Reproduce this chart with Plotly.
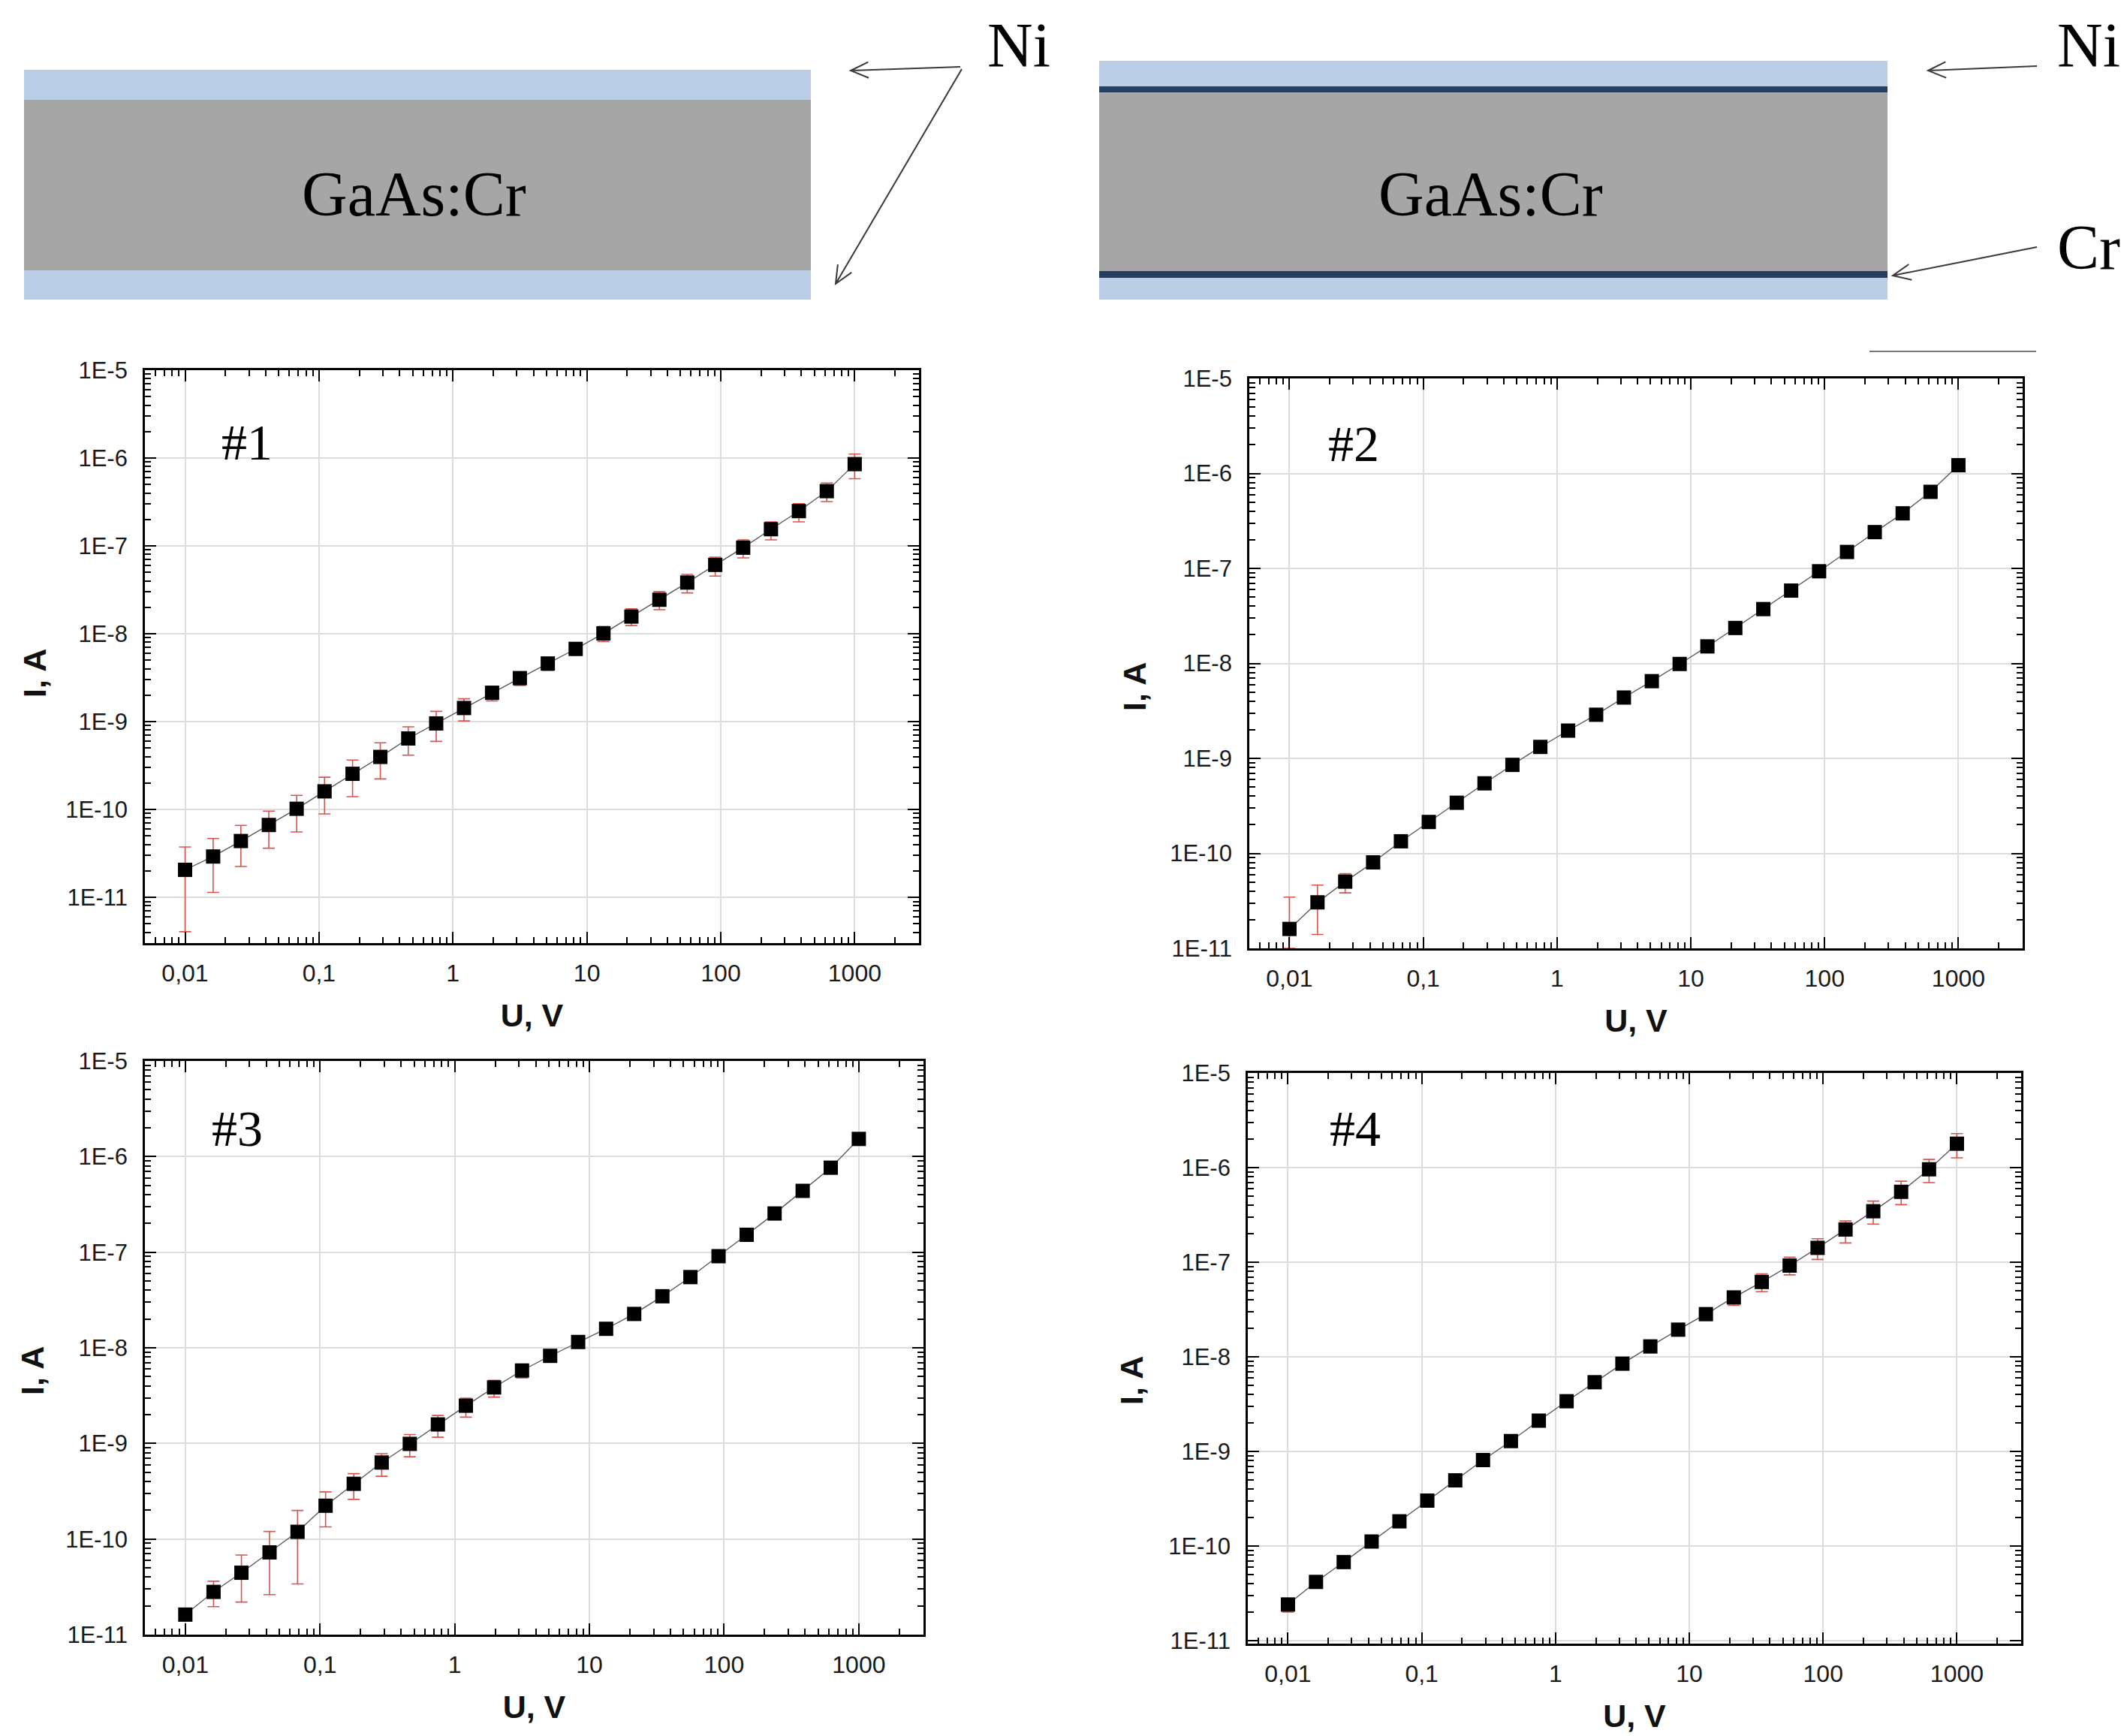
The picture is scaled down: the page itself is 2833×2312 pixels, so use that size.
import math
import plotly.graph_objects as go

W, H = 2833, 2312

# ---------------- data ----------------
U = [0.01, 0.0162, 0.0261, 0.0422, 0.0681, 0.110, 0.178, 0.287, 0.464, 0.750,
     1.21, 1.96, 3.16, 5.11, 8.25, 13.3, 21.5, 34.8, 56.2, 90.9,
     147, 237, 383, 619, 1000]

I1 = [2.06e-11, 2.92e-11, 4.38e-11, 6.67e-11, 1.02e-10, 1.61e-10, 2.55e-10, 3.97e-10, 6.44e-10, 9.55e-10,
      1.43e-9, 2.13e-9, 3.13e-9, 4.59e-9, 6.73e-9, 1.01e-8, 1.57e-8, 2.44e-8, 3.83e-8, 6.08e-8,
      9.55e-8, 1.55e-7, 2.49e-7, 4.2e-7, 8.53e-7]
I1_hi = [3.75e-11, 4.68e-11, 6.6e-11, 9.6e-11, 1.45e-10, 2.33e-10, 3.66e-10, 5.75e-10, 8.73e-10, 1.31e-9,
         1.82e-9, 2.52e-9, 3.62e-9, 5.25e-9, 7.9e-9, 1.21e-8, 1.92e-8, 3.02e-8, 4.74e-8, 7.46e-8,
         1.17e-7, 1.88e-7, 3.02e-7, 5.2e-7, 1.11e-6]
I1_lo = [4.07e-12, 1.14e-11, 2.25e-11, 3.63e-11, 5.56e-11, 8.9e-11, 1.40e-10, 2.23e-10, 4.15e-10, 5.96e-10,
         1.02e-9, 1.72e-9, 2.58e-9, 3.83e-9, 5.69e-9, 8.16e-9, 1.24e-8, 1.88e-8, 2.92e-8, 4.54e-8,
         7.3e-8, 1.17e-7, 1.88e-7, 3.2e-7, 5.82e-7]

I2 = [1.6e-11, 3.05e-11, 5.04e-11, 8.04e-11, 1.34e-10, 2.14e-10, 3.41e-10, 5.46e-10, 8.54e-10, 1.32e-9,
      1.96e-9, 2.88e-9, 4.37e-9, 6.5e-9, 9.86e-9, 1.51e-8, 2.36e-8, 3.73e-8, 5.84e-8, 9.33e-8,
      1.49e-7, 2.41e-7, 3.8e-7, 6.4e-7, 1.22e-6]
I2_hi = [3.46e-11, 4.63e-11, 6.1e-11, 8.6e-11, 1.43e-10, 2.29e-10, 3.65e-10, 5.84e-10, 9.1e-10, 1.41e-9,
         2.1e-9, 3.08e-9, 4.68e-9, 6.96e-9, 1.05e-8, 1.62e-8, 2.52e-8, 3.99e-8, 6.25e-8, 9.98e-8,
         1.59e-7, 2.58e-7, 4.07e-7, 6.85e-7, 1.3e-6]
I2_lo = [1.0e-11, 1.40e-11, 3.84e-11, 7.5e-11, 1.25e-10, 1.99e-10, 3.17e-10, 5.08e-10, 7.94e-10, 1.23e-9,
         1.82e-9, 2.68e-9, 4.06e-9, 6.05e-9, 9.17e-9, 1.4e-8, 2.19e-8, 3.47e-8, 5.43e-8, 8.68e-8,
         1.39e-7, 2.24e-7, 3.53e-7, 5.95e-7, 1.13e-6]

I3 = [1.62e-11, 2.8e-11, 4.44e-11, 7.25e-11, 1.19e-10, 2.23e-10, 3.78e-10, 6.31e-10, 9.89e-10, 1.58e-9,
      2.48e-9, 3.85e-9, 5.79e-9, 8.24e-9, 1.15e-8, 1.58e-8, 2.26e-8, 3.46e-8, 5.49e-8, 9.08e-8,
      1.52e-7, 2.54e-7, 4.38e-7, 7.65e-7, 1.53e-6]
I3_hi = [1.85e-11, 3.62e-11, 6.8e-11, 1.2e-10, 1.99e-10, 3.11e-10, 4.83e-10, 7.82e-10, 1.24e-9, 1.96e-9,
         2.98e-9, 4.57e-9, 6.38e-9, 8.8e-9, 1.23e-8, 1.69e-8, 2.42e-8, 3.7e-8, 5.87e-8, 9.7e-8,
         1.62e-7, 2.71e-7, 4.68e-7, 8.2e-7, 1.63e-6]
I3_lo = [1.4e-11, 1.96e-11, 2.19e-11, 2.62e-11, 3.39e-11, 1.34e-10, 2.6e-10, 4.53e-10, 7.25e-10, 1.16e-9,
         1.88e-9, 3.05e-9, 4.83e-9, 7.7e-9, 1.07e-8, 1.47e-8, 2.1e-8, 3.22e-8, 5.11e-8, 8.45e-8,
         1.42e-7, 2.37e-7, 4.08e-7, 7.1e-7, 1.43e-6]

I4 = [2.42e-11, 4.19e-11, 6.79e-11, 1.12e-10, 1.83e-10, 3.03e-10, 4.96e-10, 8.13e-10, 1.29e-9, 2.12e-9,
      3.4e-9, 5.4e-9, 8.48e-9, 1.29e-8, 1.94e-8, 2.83e-8, 4.25e-8, 6.19e-8, 9.22e-8, 1.42e-7,
      2.22e-7, 3.46e-7, 5.55e-7, 9.6e-7, 1.79e-6]
I4_hi = [2.78e-11, 4.5e-11, 7.3e-11, 1.2e-10, 1.97e-10, 3.25e-10, 5.32e-10, 8.7e-10, 1.38e-9, 2.27e-9,
         3.64e-9, 5.78e-9, 9.1e-9, 1.39e-8, 2.1e-8, 3.1e-8, 4.85e-8, 7.52e-8, 1.13e-7, 1.77e-7,
         2.73e-7, 4.43e-7, 7.18e-7, 1.22e-6, 2.29e-6]
I4_lo = [2.01e-11, 3.9e-11, 6.3e-11, 1.04e-10, 1.7e-10, 2.82e-10, 4.61e-10, 7.56e-10, 1.2e-9, 1.97e-9,
         3.16e-9, 5.02e-9, 7.88e-9, 1.2e-8, 1.8e-8, 2.58e-8, 3.5e-8, 4.89e-8, 7.36e-8, 1.07e-7,
         1.6e-7, 2.53e-7, 4.06e-7, 6.95e-7, 1.27e-6]

SAMPLES = ["#1", "#2", "#3", "#4"]

X_TICKVALS = [0.01, 0.1, 1, 10, 100, 1000]
X_TICKTEXT = ["0,01", "0,1", "1", "10", "100", "1000"]
Y_TICKVALS = [1e-11, 1e-10, 1e-9, 1e-8, 1e-7, 1e-6, 1e-5]
Y_TICKTEXT = ["1E-11", "1E-10", "1E-9", "1E-8", "1E-7", "1E-6", "1E-5"]
X_TITLE = "U, V"
Y_TITLE = "I, A"

# ---------------- layout helpers ----------------
OFF = 8  # default body margin of the page


def px(x, y):
    return (x - OFF) / W, 1 - (y - OFF) / H


# panel frames in pixels: (left, top, right, bottom)
frames = [(193, 493, 1224, 1256), (1664, 504, 2694, 1263),
          (193, 1413, 1230, 2177), (1662, 1429, 2692, 2189)]
yranges = [[-11.52, -5], [-11.0, -5], [-11.0, -5], [-11.03, -5]]
xrange_ = [-2.3, 3.48]
label_pos = [(329, 589), (1803, 591), (316, 1503), (1805, 1503)]
ytitle_pos = [(46, 897), (1511, 915), (43, 1826), (1507, 1839)]

series = [(I1, I1_hi, I1_lo), (I2, I2_hi, I2_lo), (I3, I3_hi, I3_lo), (I4, I4_hi, I4_lo)]

minor_x = [m * 10 ** d for d in range(-3, 4) for m in range(2, 10)]
minor_y = [m * 10.0 ** d for d in range(-12, -4) for m in range(2, 10)]

fig = go.Figure()
layout = dict(width=W, height=H, margin=dict(l=0, r=0, t=0, b=0, pad=0, autoexpand=False),
              paper_bgcolor="white", plot_bgcolor="white", showlegend=False)

xtickfont = dict(family="Liberation Sans, Arial, sans-serif", size=32, color="#1a1a1a")
ytickfont = dict(family="Liberation Sans, Arial, sans-serif", size=31, color="#1a1a1a")
titlefont = dict(family="Liberation Sans, Arial, sans-serif", size=43, color="#111111")

annotations = []
for i, ((l, t, r, b), (yv, hi, lo)) in enumerate(zip(frames, series)):
    n = i + 1
    xa = "x" if n == 1 else f"x{n}"
    ya = "y" if n == 1 else f"y{n}"
    fig.add_trace(go.Scatter(
        x=U, y=yv, xaxis=xa, yaxis=ya, mode="lines+markers",
        line=dict(color="#555555", width=1.3),
        marker=dict(symbol="square", size=19, color="black", line=dict(width=0)),
        error_y=dict(type="data", symmetric=False,
                     array=[h - v for h, v in zip(hi, yv)],
                     arrayminus=[v - q for v, q in zip(yv, lo)],
                     color="#d9534f", thickness=1.6, width=8),
        cliponaxis=True,
    ))
    x0, _ = px(l, 0)
    x1, _ = px(r, 0)
    _, y1 = px(0, t)
    _, y0 = px(0, b)
    common = dict(showline=True, linecolor="black", linewidth=2.8, mirror="allticks",
                  ticks="inside", ticklen=15, tickwidth=2, tickcolor="black",
                  showgrid=True, gridcolor="#dcdcdc", gridwidth=1.5,
                  zeroline=False, type="log", automargin=False)
    layout["xaxis" if n == 1 else f"xaxis{n}"] = dict(
        common, domain=[x0, x1], anchor=ya, range=xrange_, tickfont=xtickfont,
        tickmode="array", tickvals=X_TICKVALS, ticktext=X_TICKTEXT,
        ticklabelstandoff=10,
        minor=dict(ticks="inside", ticklen=8, tickwidth=1.5, tickcolor="black",
                   tickmode="array", tickvals=minor_x, showgrid=False),
        title=dict(text=f"<b>{X_TITLE}</b>", font=titlefont, standoff=24))
    layout["yaxis" if n == 1 else f"yaxis{n}"] = dict(
        common, domain=[y0, y1], anchor=xa, range=yranges[i], tickfont=ytickfont,
        tickmode="array", tickvals=Y_TICKVALS, ticktext=Y_TICKTEXT,
        ticklabelstandoff=14,
        minor=dict(ticks="inside", ticklen=8, tickwidth=1.5, tickcolor="black",
                   tickmode="array", tickvals=minor_y, showgrid=False))
    # y-axis title, placed as in the original (slightly below the panel centre)
    tx, ty = px(*ytitle_pos[i])
    annotations.append(dict(x=tx, y=ty, xref="paper", yref="paper", text=f"<b>{Y_TITLE}</b>",
                            textangle=-90, showarrow=False, xanchor="center", yanchor="middle",
                            font=titlefont))
    lx, ly = px(*label_pos[i])
    annotations.append(dict(x=lx, y=ly, xref="paper", yref="paper", text=SAMPLES[i],
                            showarrow=False, xanchor="center", yanchor="middle",
                            font=dict(family="Liberation Serif, Times New Roman, serif",
                                      size=68, color="black")))

# ---------------- structure diagrams ----------------
shapes = []
BLUE, GRAY, NAVY = "#b9cde4", "#a6a6a6", "#243f60"


def rect(xa, ya, xb, yb, color):
    p0 = px(xa, ya)
    p1 = px(xb, yb)
    shapes.append(dict(type="rect", xref="paper", yref="paper", x0=p0[0], y0=p1[1],
                       x1=p1[0], y1=p0[1], fillcolor=color, line=dict(width=0), layer="below"))


# left: Ni / GaAs:Cr / Ni
rect(32, 93, 1080, 133, BLUE)
rect(32, 133, 1080, 360, GRAY)
rect(32, 360, 1080, 399, BLUE)
# right: Ni / Cr / GaAs:Cr / Cr / Ni
rect(1464, 81, 2514, 115, BLUE)
rect(1464, 115, 2514, 123, NAVY)
rect(1464, 123, 2514, 361, GRAY)
rect(1464, 361, 2514, 370, NAVY)
rect(1464, 370, 2514, 399, BLUE)


def arrow(xs, ys, xe, ye, head=26, ang=24):
    dx, dy = xe - xs, ye - ys
    a = math.atan2(dy, dx)
    pts = []
    for s in (+1, -1):
        b = a + math.pi + s * math.radians(ang)
        pts.append((xe + head * math.cos(b), ye + head * math.sin(b)))

    def P(x, y):
        q = px(x, y)
        return f"{q[0]:.5f},{q[1]:.5f}"
    path = (f"M{P(xs, ys)} L{P(xe, ye)} M{P(*pts[0])} L{P(xe, ye)} L{P(*pts[1])}")
    shapes.append(dict(type="path", xref="paper", yref="paper", path=path,
                       line=dict(color="#3a3a3a", width=2)))


arrow(1279, 89, 1133, 94)
arrow(1281, 92, 1113, 378)
arrow(2713, 88, 2568, 94)
arrow(2713, 329, 2521, 367)

p0 = px(2490, 468)
p1 = px(2712, 468)
shapes.append(dict(type="line", xref="paper", yref="paper", x0=p0[0], y0=p0[1],
                   x1=p1[0], y1=p1[1], line=dict(color="#777777", width=2)))

serif = dict(family="Liberation Serif, Times New Roman, serif", size=84, color="black")
for text, (x, y) in [("GaAs:Cr", (551, 258)), ("GaAs:Cr", (1986, 258)),
                     ("Ni", (1357, 60)), ("Ni", (2782, 60)), ("Cr", (2782, 330))]:
    q = px(x, y)
    annotations.append(dict(x=q[0], y=q[1], xref="paper", yref="paper", text=text,
                            showarrow=False, xanchor="center", yanchor="middle", font=serif))

layout["shapes"] = shapes
layout["annotations"] = annotations
fig.update_layout(**layout)
fig.write_html("out.html")
